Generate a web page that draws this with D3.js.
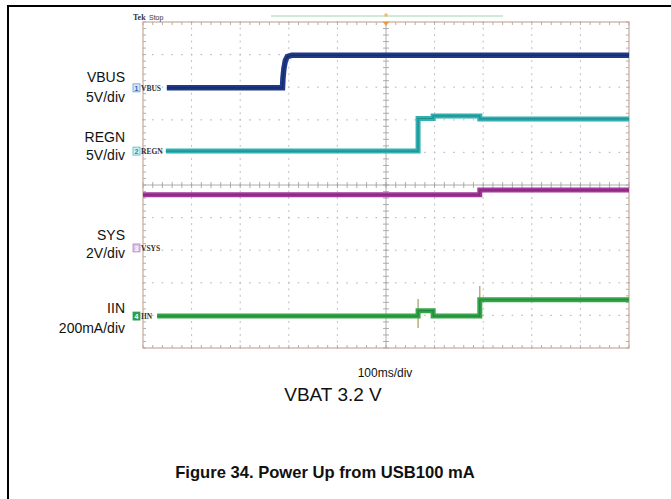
<!DOCTYPE html>
<html>
<head>
<meta charset="utf-8">
<script src="https://cdn.jsdelivr.net/npm/d3@7"></script>
<style>
  body { margin: 0; background: #fff; }
  svg { display: block; font-family: "Liberation Sans", Arial, sans-serif; }
</style>
</head>
<body>
<div id="chart"></div>
<script>
"use strict";

// scope screen: 10 x 10 divisions, 100 ms/div
var timeDomain = [0, 1000];
var divDomain = [-5, 5];

// channels: name, units per div, ground marker position (div from centre)
var channelNames = ["VBUS", "REGN", "VSYS", "IIN"];
var sideLabels = [["VBUS", "5V/div"], ["REGN", "5V/div"], ["SYS", "2V/div"], ["IIN", "200mA/div"]];
var unitsPerDiv = [5, 5, 2, 200];
var groundDiv = [2.98, 1.04, -1.93, -4.02];

// traces (time in ms, value in V or mA)
var vbusT = [49, 287, 288, 290, 293, 297, 306, 1000];
var vbusV = [0, 0, 1.5, 3.0, 4.2, 4.8, 5.0, 5.0];
var regnT = [47, 566, 566, 597, 597, 693, 693, 1000];
var regnV = [0, 0, 5.0, 5.0, 5.4, 5.4, 4.93, 4.93];
var vsysT = [0, 693, 693, 1000];
var vsysV = [3.26, 3.26, 3.55, 3.55];
var iinT = [29, 566, 566, 597, 597, 693, 693, 1000];
var iinV = [0, 0, 33, 33, 0, 0, 100, 100];
// switching spikes on IIN
var spikeT = [566, 693];
var spikeHi = [104, 184];
var spikeLo = [-74, 100];

var W = 671, H = 499;
var svg = d3.select("#chart").append("svg")
  .attr("width", W)
  .attr("height", H);

var x = d3.scaleLinear().domain(timeDomain).range([143, 629]);
var y = d3.scaleLinear().domain(divDomain).range([348, 22]);

var colors = {
  band: ["#1f3a86", "#33b0b2", "#a1399a", "#36a64c"],
  core: ["#122463", "#16817f", "#7c1a72", "#1a7a2e"],
  boxFill: ["#d7e6f6", "#d4f1f2", "#d9bfe2", "#2f9e45"],
  boxStroke: ["#6a9ad6", "#4fb9c4", "#b78cc8", "#2f9e45"],
  boxText: ["#2f5fb0", "#2a8f9c", "#ffffff", "#ffffff"],
  border: "#c9a999",
  grid: "#b7bfca",
  axis: "#9a9a9a"
};

// outer frame
svg.append("line").attr("x1", 7).attr("x2", W).attr("y1", 6).attr("y2", 6)
  .attr("stroke", "#000").attr("stroke-width", 2);
svg.append("line").attr("x1", 8).attr("x2", 8).attr("y1", 6).attr("y2", H)
  .attr("stroke", "#000").attr("stroke-width", 2);

var grid = svg.append("g").attr("class", "grid");
var xDivs = d3.range(0, 1001, 100);
var yDivs = d3.range(-5, 6, 1);
var xMinor = d3.range(0, 1001, 20);
var yMinor = d3.range(-5, 5.001, 0.2);

// dotted division lines
xDivs.filter(function(t) { return t > 0 && t < 1000 && t !== 500; }).forEach(function(t) {
  grid.selectAll(null).data(yMinor).enter().append("line")
    .attr("x1", x(t)).attr("x2", x(t))
    .attr("y1", function(d) { return y(d) - 1; })
    .attr("y2", function(d) { return y(d) + 1; })
    .attr("stroke", colors.grid).attr("stroke-width", 1);
});
yDivs.filter(function(d) { return d > -5 && d < 5 && d !== 0; }).forEach(function(v) {
  grid.selectAll(null).data(xMinor).enter().append("line")
    .attr("x1", function(d) { return x(d) - 0.8; })
    .attr("x2", function(d) { return x(d) + 0.8; })
    .attr("y1", y(v)).attr("y2", y(v))
    .attr("stroke", colors.grid).attr("stroke-width", 1.2);
});

// centre crosshair with minor ticks
grid.append("line").attr("x1", x(500)).attr("x2", x(500)).attr("y1", y(5)).attr("y2", y(-5))
  .attr("stroke", colors.axis).attr("stroke-width", 0.8);
grid.append("line").attr("x1", x(0)).attr("x2", x(1000)).attr("y1", y(0)).attr("y2", y(0))
  .attr("stroke", colors.axis).attr("stroke-width", 0.8);
grid.selectAll(null).data(yMinor).enter().append("line")
  .attr("x1", x(500) - 3).attr("x2", x(500) + 3)
  .attr("y1", function(d) { return y(d); }).attr("y2", function(d) { return y(d); })
  .attr("stroke", colors.axis).attr("stroke-width", 0.8);
grid.selectAll(null).data(xMinor).enter().append("line")
  .attr("x1", function(d) { return x(d); }).attr("x2", function(d) { return x(d); })
  .attr("y1", y(0) - 3).attr("y2", y(0) + 3)
  .attr("stroke", colors.axis).attr("stroke-width", 0.8);

// edge ticks
grid.selectAll(null).data(xMinor).enter().append("line")
  .attr("x1", function(d) { return x(d); }).attr("x2", function(d) { return x(d); })
  .attr("y1", y(5)).attr("y2", y(5) + 3)
  .attr("stroke", colors.axis).attr("stroke-width", 0.8);
grid.selectAll(null).data(xMinor).enter().append("line")
  .attr("x1", function(d) { return x(d); }).attr("x2", function(d) { return x(d); })
  .attr("y1", y(-5)).attr("y2", y(-5) - 3)
  .attr("stroke", colors.axis).attr("stroke-width", 0.8);
grid.selectAll(null).data(yMinor).enter().append("line")
  .attr("x1", x(0)).attr("x2", x(0) + 3)
  .attr("y1", function(d) { return y(d); }).attr("y2", function(d) { return y(d); })
  .attr("stroke", colors.axis).attr("stroke-width", 0.8);
grid.selectAll(null).data(yMinor).enter().append("line")
  .attr("x1", x(1000)).attr("x2", x(1000) - 3)
  .attr("y1", function(d) { return y(d); }).attr("y2", function(d) { return y(d); })
  .attr("stroke", colors.axis).attr("stroke-width", 0.8);

grid.append("rect")
  .attr("x", x(0)).attr("y", y(5))
  .attr("width", x(1000) - x(0)).attr("height", y(-5) - y(5))
  .attr("fill", "none").attr("stroke", colors.border).attr("stroke-width", 1.2);

// header: Tek Stop, trigger bar and marker
svg.append("text").attr("x", 133).attr("y", 20)
  .attr("font-size", 8).attr("font-weight", "bold").attr("fill", "#333")
  .attr("font-family", "'Liberation Serif', serif").text("Tek");
svg.append("text").attr("x", 149).attr("y", 20)
  .attr("font-size", 7).attr("fill", "#333").text("Stop");
svg.append("line").attr("x1", 271).attr("x2", 503).attr("y1", 16).attr("y2", 16)
  .attr("stroke", "#9ad6ab").attr("stroke-width", 1);
svg.append("rect").attr("x", x(500) - 1.5).attr("y", 13.5).attr("width", 3).attr("height", 3)
  .attr("fill", "#f5b56a");
svg.append("path")
  .attr("d", "M" + (x(500) - 3) + "," + y(5) + "L" + (x(500) + 3) + "," + y(5) + "L" + x(500) + "," + (y(5) + 4) + "Z")
  .attr("fill", "#f29a3a");

// traces
var traces = [[vbusT, vbusV], [regnT, regnV], [vsysT, vsysV], [iinT, iinV]];
var line = d3.line()
  .x(function(d) { return x(d[0]); })
  .y(function(d) { return y(d[1]); });

var plot = svg.append("g").attr("class", "traces");

// IIN spikes behind the band
plot.selectAll("line.spike").data(spikeT).enter().append("line")
  .attr("class", "spike")
  .attr("x1", function(d) { return x(d); }).attr("x2", function(d) { return x(d); })
  .attr("y1", function(d, i) { return y(groundDiv[3] + spikeHi[i] / unitsPerDiv[3]); })
  .attr("y2", function(d, i) { return y(groundDiv[3] + spikeLo[i] / unitsPerDiv[3]); })
  .attr("stroke", "#a89a5a").attr("stroke-width", 1.2);

traces.forEach(function(tr, c) {
  var pts = tr[0].map(function(t, i) {
    return [t, groundDiv[c] + tr[1][i] / unitsPerDiv[c]];
  });
  plot.append("path").datum(pts)
    .attr("d", line)
    .attr("fill", "none")
    .attr("stroke", colors.band[c])
    .attr("stroke-width", c === 0 ? 5.5 : 5)
    .attr("stroke-linejoin", "miter");
  plot.append("path").datum(pts)
    .attr("d", line)
    .attr("fill", "none")
    .attr("stroke", colors.core[c])
    .attr("stroke-width", 1.2)
    .attr("opacity", 0.7);
});

// channel markers
var markers = svg.append("g").attr("class", "markers");
channelNames.forEach(function(name, c) {
  var yy = y(groundDiv[c]);
  markers.append("rect")
    .attr("x", 133).attr("y", yy - 4)
    .attr("width", 7).attr("height", 8)
    .attr("fill", colors.boxFill[c]).attr("stroke", colors.boxStroke[c]).attr("stroke-width", 0.8);
  markers.append("text")
    .attr("x", 136.5).attr("y", yy + 2.8)
    .attr("text-anchor", "middle").attr("font-size", 7).attr("font-weight", "bold")
    .attr("fill", colors.boxText[c]).text(c + 1);
  markers.append("text")
    .attr("x", 141).attr("y", yy + 2.8)
    .attr("font-size", 7.5).attr("font-weight", "bold")
    .attr("font-family", "'Liberation Serif', serif")
    .attr("fill", "#3a3030").text(name);
});

// side labels
var labelBase = [[82, 102], [142, 160], [240, 258], [313, 333]];
sideLabels.forEach(function(pair, c) {
  pair.forEach(function(txt, k) {
    svg.append("text")
      .attr("x", 125).attr("y", labelBase[c][k])
      .attr("text-anchor", "end").attr("font-size", 14).attr("fill", "#111")
      .text(txt);
  });
});

// bottom texts
svg.append("text").attr("x", 385).attr("y", 377).attr("text-anchor", "middle")
  .attr("font-size", 12).attr("fill", "#111").text("100ms/div");
svg.append("text").attr("x", 333).attr("y", 401).attr("text-anchor", "middle")
  .attr("font-size", 19).attr("fill", "#111").text("VBAT 3.2 V");
svg.append("text").attr("x", 325).attr("y", 478).attr("text-anchor", "middle")
  .attr("font-size", 16.6).attr("font-weight", "bold").attr("fill", "#111")
  .text("Figure 34. Power Up from USB100 mA");
</script>
</body>
</html>
